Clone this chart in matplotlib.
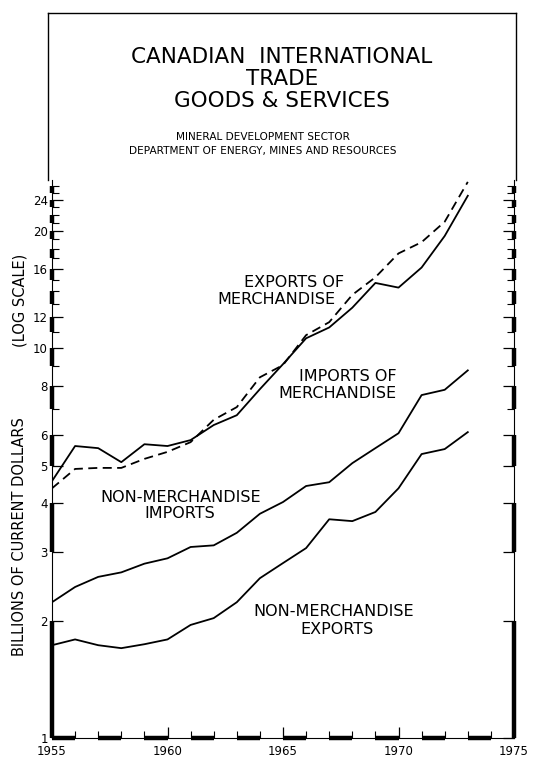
import matplotlib
matplotlib.use("Agg")
import matplotlib.pyplot as plt
from matplotlib.lines import Line2D
import numpy as np

years = list(range(1955, 1974))
exports_merch = [4.37, 4.90, 4.93, 4.93, 5.20, 5.42, 5.74, 6.55, 7.06, 8.42, 9.05,
                 10.8, 11.66, 13.7, 15.2, 17.5, 18.7, 21.1, 26.7]
imports_merch = [4.56, 5.61, 5.54, 5.10, 5.67, 5.61, 5.81, 6.35, 6.73, 7.85, 9.10,
                 10.6, 11.3, 12.7, 14.7, 14.3, 16.1, 19.4, 24.6]
nonmerch_imports = [2.23, 2.44, 2.59, 2.66, 2.80, 2.89, 3.09, 3.12, 3.36, 3.76, 4.03,
                    4.43, 4.53, 5.07, 5.54, 6.05, 7.58, 7.82, 8.77]
nonmerch_exports = [1.73, 1.79, 1.73, 1.70, 1.74, 1.79, 1.95, 2.03, 2.23, 2.57, 2.81,
                    3.07, 3.64, 3.60, 3.80, 4.37, 5.35, 5.51, 6.09]

ytick_major = [1, 2, 3, 4, 5, 6, 8, 10, 12, 16, 20, 24]
ytick_minor = [7, 9, 11, 13, 14, 15, 17, 18, 19, 21, 22, 23, 25, 26]
xtick_major = [1955, 1960, 1965, 1970, 1975]
xtick_minor = list(range(1955, 1976))

W, H = 538, 759
fig = plt.figure(figsize=(W / 100, H / 100), dpi=100)
def fx(px): return px / W
def fy(py): return 1 - py / H

ax = fig.add_axes([fx(52), fy(738), fx(514) - fx(52), fy(180) - fy(738)])
ax.set_yscale('log')
ax.set_ylim(1, 27.0)
ax.set_xlim(1955, 1975)
for s in ax.spines.values():
    s.set_visible(False)

lw = 1.3
ax.plot(years, exports_merch, color='black', lw=lw, ls=(0, (5, 3)))
ax.plot(years, imports_merch, color='black', lw=lw)
ax.plot(years, nonmerch_imports, color='black', lw=lw)
ax.plot(years, nonmerch_exports, color='black', lw=lw)

# scale-bar style axes
ymax = 27.0
for xa in (1955, 1975):
    ax.plot([xa, xa], [1, ymax], color='black', lw=0.8, clip_on=False)
    for k in range(1, 26, 2):
        ax.plot([xa, xa], [k, min(k + 1, ymax)], color='black', lw=3.2,
                solid_capstyle='butt', clip_on=False)
ax.plot([1955, 1975], [1, 1], color='black', lw=0.8, clip_on=False)
for yr in range(1955, 1975, 2):
    ax.plot([yr, yr + 1], [1, 1], color='black', lw=3.2,
            solid_capstyle='butt', clip_on=False)

ax.set_yticks(ytick_major)
ax.set_yticklabels([str(v) for v in ytick_major])
ax.set_yticks(ytick_minor, minor=True)
ax.yaxis.set_minor_formatter(matplotlib.ticker.NullFormatter())
ax.set_xticks(xtick_major)
ax.set_xticklabels([str(v) for v in xtick_major])
ax.set_xticks(xtick_minor, minor=True)
ax.tick_params(axis='both', which='major', direction='in', length=8, width=0.9,
               labelsize=8.5, pad=3, right=True, top=False)
ax.tick_params(axis='both', which='minor', direction='in', length=5, width=0.8,
               right=True, top=False)
ax.tick_params(axis='x', which='both', pad=5)

# frame around title area
lines = [([48, 48], [180, 13]), ([48, 516], [13, 13]), ([516, 516], [13, 180])]
for xs, ys in lines:
    fig.add_artist(Line2D([fx(x) for x in xs], [fy(y) for y in ys],
                          color='black', lw=1.0))

tfs = 15.5
fig.text(fx(282), fy(57), "CANADIAN  INTERNATIONAL", ha='center', va='center', fontsize=tfs)
fig.text(fx(282), fy(79), "TRADE", ha='center', va='center', fontsize=tfs)
fig.text(fx(282), fy(101), "GOODS & SERVICES", ha='center', va='center', fontsize=tfs)
fig.text(fx(263), fy(137), "MINERAL DEVELOPMENT SECTOR", ha='center', va='center', fontsize=7.6)
fig.text(fx(263), fy(151), "DEPARTMENT OF ENERGY, MINES AND RESOURCES", ha='center', va='center', fontsize=7.6)

fig.text(fx(20), fy(300), "(LOG SCALE)", rotation=90, ha='center', va='center', fontsize=10.5)
fig.text(fx(20), fy(537), "BILLIONS OF CURRENT DOLLARS", rotation=90, ha='center', va='center', fontsize=10.5)

afs = 11.5
fig.text(fx(294), fy(283), "EXPORTS OF", ha='center', va='center', fontsize=afs)
fig.text(fx(276), fy(299), "MERCHANDISE", ha='center', va='center', fontsize=afs)
fig.text(fx(397), fy(377), "IMPORTS OF", ha='right', va='center', fontsize=afs)
fig.text(fx(397), fy(393), "MERCHANDISE", ha='right', va='center', fontsize=afs)
fig.text(fx(181), fy(497), "NON-MERCHANDISE", ha='center', va='center', fontsize=afs)
fig.text(fx(180), fy(513), "IMPORTS", ha='center', va='center', fontsize=afs)
fig.text(fx(334), fy(612), "NON-MERCHANDISE", ha='center', va='center', fontsize=afs)
fig.text(fx(337), fy(629), "EXPORTS", ha='center', va='center', fontsize=afs)

fig.savefig("out.png", dpi=100)
